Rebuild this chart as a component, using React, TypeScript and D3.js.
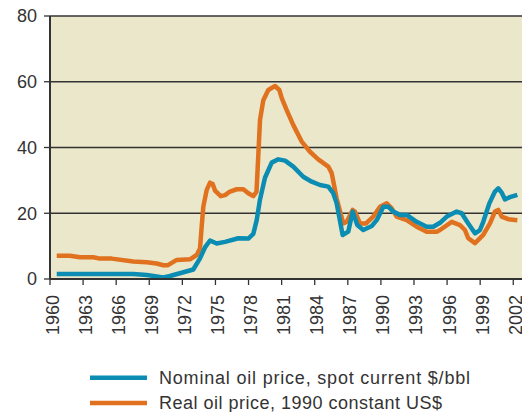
import React from "react";
import * as d3 from "d3";

const realYears = [1960.61,1961.81,1962.72,1963.93,1964.53,1965.59,1967.55,1968.77,1969.67,1970.27,1970.7,1971.49,1972.69,1973.3,1973.6,1973.75,1973.9,1974.21,1974.51,1974.75,1974.96,1975.48,1975.87,1976.32,1976.93,1977.53,1977.98,1978.43,1978.72,1978.89,1979.04,1979.34,1979.79,1980.4,1980.79,1981.01,1981.46,1982.06,1982.82,1983.57,1984.32,1985.23,1985.54,1985.99,1986.59,1986.9,1987.44,1987.65,1988.1,1988.65,1989.31,1989.92,1990.53,1990.98,1991.43,1992.34,1993.24,1994.15,1995.06,1995.36,1996.42,1997.17,1997.62,1997.92,1998.53,1998.83,1999.28,1999.89,2000.34,2000.64,2000.95,2001.55,2002.37];
const realValues = [7.1,7.1,6.6,6.6,6.2,6.2,5.3,5.1,4.7,4.2,4.2,5.8,6.0,7.3,9.3,15.9,22,27.1,29.3,28.9,26.9,25.2,25.5,26.6,27.3,27.3,26.1,25.2,26.5,38,48.4,54.4,57.5,58.7,57.5,55,51.4,46.8,41.8,38.7,36.4,34.2,32.2,24.5,16.9,17.4,21,20.5,16.9,16.9,19,22,23,21.5,19,17.9,15.9,14.4,14.4,14.9,17.4,16.4,14.9,12.4,10.9,11.9,13.4,16.9,20.5,21,19,18.2,17.9];

const nominalYears = [1960.61,1967.55,1968.77,1970.27,1970.88,1971.94,1972.99,1973.6,1974.05,1974.51,1975.11,1975.87,1977.07,1977.98,1978.43,1978.74,1979.04,1979.49,1980.1,1980.7,1981.31,1982.06,1982.96,1983.73,1984.48,1985.23,1985.68,1985.99,1986.53,1987.04,1987.44,1987.86,1988.4,1989.17,1989.62,1990.22,1990.67,1991.12,1991.73,1992.34,1993.24,1994.15,1994.75,1995.36,1995.97,1996.87,1997.32,1997.92,1998.53,1998.98,1999.28,1999.83,2000.34,2000.64,2000.95,2001.25,2001.7,2002.37];
const nominalValues = [1.5,1.5,1.2,0.5,0.9,1.9,2.9,6.3,9.6,11.7,10.8,11.3,12.4,12.3,13.7,17.9,24.2,30.8,35.4,36.4,36,34.2,31.1,29.6,28.6,28.1,26.1,23,13.4,14.4,20.5,16.4,14.9,16.1,17.9,22,22,20.5,19.5,19.5,17.4,15.9,15.9,17.1,19,20.5,20,16.9,13.9,14.9,17.4,23,26.6,27.6,26.3,24.2,24.9,25.6];

const xTickYears = [1960,1963,1966,1969,1972,1975,1978,1981,1984,1987,1990,1993,1996,1999,2002];
const yTicks = [0,20,40,60,80];
const seriesNames = ["Nominal oil price, spot current $/bbl", "Real oil price, 1990 constant US$"];
const seriesColors = ["#0a8cb3", "#e0711f"];
const legendWidths = [311, 283];

const W = 522, H = 412;
const left = 50, top = 16, bottom = 279;
const x = d3.scaleLinear().domain([1960, 2003]).range([left, left + 43 * 11.03]);
const y = d3.scaleLinear().domain([0, 80]).range([bottom, top]);
const font = "'Liberation Sans', Arial, sans-serif";

export default function App() {
  const line = d3.line<[number, number]>().x(d => x(d[0])).y(d => y(d[1]));
  const nominal = nominalYears.map((t, i) => [t, nominalValues[i]] as [number, number]);
  const real = realYears.map((t, i) => [t, realValues[i]] as [number, number]);
  return (
    <svg width={W} height={H} style={{ position: "absolute", left: 0, top: 0, background: "#fff" }}>
      <rect x={left} y={top} width={W - left} height={bottom - top} fill="#ebe7ca" />
      {yTicks.map(t => (
        <g key={t}>
          {t > 0 && <line x1={left} x2={W} y1={y(t)} y2={y(t)} stroke="#333" strokeWidth={1.3} />}
          <line x1={left - 6} x2={left} y1={y(t)} y2={y(t)} stroke="#333" strokeWidth={1.3} />
          <text x={37} y={y(t)} dy="0.35em" textAnchor="end" fontSize={18} fill="#333" fontFamily={font}>{t}</text>
        </g>
      ))}
      <path d={line(real) || ""} fill="none" stroke={seriesColors[1]} strokeWidth={4.5} strokeLinejoin="round" strokeLinecap="butt" />
      <path d={line(nominal) || ""} fill="none" stroke={seriesColors[0]} strokeWidth={4.5} strokeLinejoin="round" strokeLinecap="butt" />
      <line x1={left} x2={left} y1={top} y2={bottom} stroke="#333" strokeWidth={2} />
      <line x1={left} x2={W} y1={bottom} y2={bottom} stroke="#333" strokeWidth={2} />
      {xTickYears.map(t => (
        <g key={t}>
          <line x1={x(t)} x2={x(t)} y1={bottom} y2={bottom + 6} stroke="#333" strokeWidth={1.3} />
          <text transform={`translate(${x(t) + 8.5},${bottom + 16}) rotate(-90)`} textAnchor="end" fontSize={18} fill="#333" fontFamily={font}>{t}</text>
        </g>
      ))}
      {seriesNames.map((n, i) => (
        <g key={n}>
          <line x1={90} x2={147} y1={377.7 + i * 25.3} y2={377.7 + i * 25.3} stroke={seriesColors[i]} strokeWidth={4.5} />
          <text x={159} y={383.5 + i * 25.3} fontSize={18} fill="#333" fontFamily={font} textLength={legendWidths[i]} lengthAdjust="spacing">{n}</text>
        </g>
      ))}
    </svg>
  );
}
